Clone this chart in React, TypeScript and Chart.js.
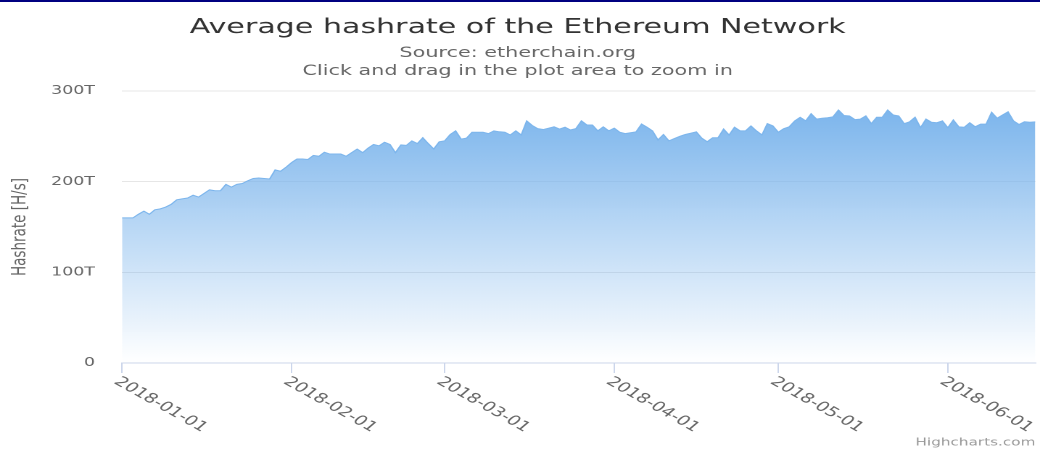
import React, { useEffect, useRef } from "react";
import { Chart, registerables } from "chart.js";

Chart.register(...registerables);

// ---- data (values in TH/s, one per day starting 2018-01-01) ----
const START_DATE = "2018-01-01";
const HASHRATE_T = [
  160, 160, 160, 164, 167.5, 164, 169, 170, 172, 175,
  180, 181, 182, 185, 183, 187, 191, 190, 190, 197,
  194, 197, 198, 201, 203.5, 204, 203.5, 203, 213, 211.5,
  216, 221, 225, 225, 224.5, 229, 228, 232.5, 230.5, 230.5,
  230.5, 228, 232, 236, 232, 237, 241, 239.5, 243.5, 241,
  232, 240.5, 240, 245, 242, 248.5, 242, 236, 244, 245,
  252, 256, 247, 248, 254.5, 254.5, 254.5, 253, 256, 255,
  254.5, 251.5, 256, 251.5, 267, 262, 258.5, 257.5, 259, 260.5,
  258, 260, 257, 258.5, 267, 262.5, 262.5, 256, 260.5, 256,
  259, 254.5, 253, 254, 255, 263.5, 260, 256, 246, 252,
  245, 247.5, 250, 252, 253.5, 255, 248, 244, 248.5, 248.5,
  258, 251.5, 260, 256, 256, 261.5, 256, 251.5, 264, 261.5,
  254.5, 258.5, 260.5, 267, 271, 267, 275, 269, 270, 270.5,
  271.5, 279, 273, 272.5, 268.5, 269, 272.5, 264, 271, 271,
  279, 273.5, 272.5, 264, 266, 271, 259.5, 269, 265.5, 265,
  267, 259.5, 268, 260.5, 260, 265, 260.5, 263.5, 263.5, 276.5,
  270, 273.5, 277, 267, 263, 266, 265.5, 266,
];
const X_TICK_DAYS = [0, 31, 59, 90, 120, 151];
const X_TICK_LABELS = ["2018-01-01", "2018-02-01", "2018-03-01", "2018-04-01", "2018-05-01", "2018-06-01"];
const Y_TICK_VALUES = [0, 100, 200, 300];
const Y_TICK_LABELS = ["0", "100T", "200T", "300T"];

const TITLE = "Average hashrate of the Ethereum Network";
const SUBTITLE = ["Source: etherchain.org", "Click and drag in the plot area to zoom in"];
const Y_TITLE = "Hashrate [H/s]";
const CREDITS = "Highcharts.com";

// ---- layout ----
const SCREEN_W = 1040;
const SCREEN_H = 451;
const STRETCH = 1.45;
const W = Math.round(SCREEN_W / STRETCH);
const FONT = "'DejaVu Sans', Verdana, sans-serif";

const labelsPlugin = {
  id: "hcLabels",
  afterDraw(chart: any) {
    const ctx = chart.ctx;
    const xs = chart.scales.x;
    const area = chart.chartArea;
    ctx.save();
    ctx.fillStyle = "#666666";
    ctx.font = `13.5px ${FONT}`;
    ctx.textAlign = "left";
    ctx.textBaseline = "middle";
    X_TICK_DAYS.forEach((d, i) => {
      const px = xs.getPixelForValue(d);
      ctx.save();
      ctx.translate(px - 4, area.bottom + 17);
      ctx.rotate((39 * Math.PI) / 180);
      ctx.fillText(X_TICK_LABELS[i], 0, 0);
      ctx.restore();
    });
    ctx.fillStyle = "#999999";
    ctx.font = `10.5px ${FONT}`;
    ctx.textAlign = "right";
    ctx.fillText(CREDITS, area.right, 443);
    ctx.restore();
  },
};

export default function App() {
  const ref = useRef<HTMLCanvasElement | null>(null);

  useEffect(() => {
    if (!ref.current) return;
    const maxVal = Math.max(...HASHRATE_T);
    const chart = new Chart(ref.current, {
      type: "line",
      data: {
        datasets: [
          {
            label: "Hashrate",
            data: HASHRATE_T.map((v, i) => ({ x: i, y: v })),
            borderColor: "#7cb5ec",
            borderWidth: 1,
            pointRadius: 0,
            tension: 0,
            fill: "origin",
            backgroundColor: (c: any) => {
              const { chart: ch } = c;
              const a = ch.chartArea;
              if (!a) return "rgba(124,181,236,0.5)";
              const top = ch.scales.y.getPixelForValue(maxVal);
              const g = ch.ctx.createLinearGradient(0, top, 0, a.bottom);
              g.addColorStop(0, "rgba(124,181,236,1)");
              g.addColorStop(1, "rgba(124,181,236,0)");
              return g;
            },
          },
        ],
      },
      options: {
        animation: false,
        responsive: false,
        devicePixelRatio: 2,
        layout: { padding: { top: 0, left: 0, right: 3.2, bottom: 0 } },
        plugins: {
          legend: { display: false },
          tooltip: { enabled: false },
          title: {
            display: true,
            text: TITLE,
            color: "#333333",
            font: { family: FONT, size: 20.75, weight: "normal", lineHeight: 1.2 },
            padding: { top: 15, bottom: 0 },
          },
          subtitle: {
            display: true,
            text: SUBTITLE,
            color: "#666666",
            font: { family: FONT, size: 14.3, weight: "normal", lineHeight: "18px" },
            padding: { top: 4.5, bottom: 10.6 },
          },
        },
        scales: {
          x: {
            type: "linear",
            min: 0,
            max: HASHRATE_T.length - 1,
            grid: {
              display: true,
              drawOnChartArea: false,
              drawTicks: true,
              tickLength: 10,
              color: "#ccd6eb",
              lineWidth: 1,
            },
            border: { display: true, color: "#ccd6eb", width: 1 },
            ticks: { display: false },
            afterBuildTicks: (s: any) => {
              s.ticks = X_TICK_DAYS.map((v) => ({ value: v }));
            },
            afterFit: (s: any) => {
              s.height = 88;
            },
          },
          y: {
            type: "linear",
            min: 0,
            max: 300,
            grid: { color: "#e6e6e6", lineWidth: 1, drawTicks: false },
            border: { display: false },
            ticks: {
              color: "#666666",
              padding: 18.6,
              font: { family: FONT, size: 12 },
              callback: (_v: any, i: number) => Y_TICK_LABELS[i],
            },
            afterBuildTicks: (s: any) => {
              s.ticks = Y_TICK_VALUES.map((v) => ({ value: v }));
            },
            afterFit: (s: any) => {
              s.width = 84.1;
            },
            title: {
              display: true,
              text: Y_TITLE,
              color: "#666666",
              font: { family: FONT, size: 13.5, weight: "normal", lineHeight: 1.2 },
              padding: { top: 5.7, bottom: 0 },
            },
          },
        },
      },
      plugins: [labelsPlugin],
    } as any);
    return () => chart.destroy();
  }, []);

  return (
    <div
      style={{
        position: "absolute",
        left: 0,
        top: 0,
        width: SCREEN_W,
        height: SCREEN_H,
        background: "#ffffff",
        overflow: "hidden",
      }}
      data-start={START_DATE}
    >
      <canvas
        ref={ref}
        width={W}
        height={SCREEN_H}
        style={{ width: `${SCREEN_W}px`, height: `${SCREEN_H}px`, display: "block" }}
      />
      <div
        style={{ position: "absolute", left: 0, top: 0, width: SCREEN_W, height: 2, background: "#000080" }}
      />
    </div>
  );
}
